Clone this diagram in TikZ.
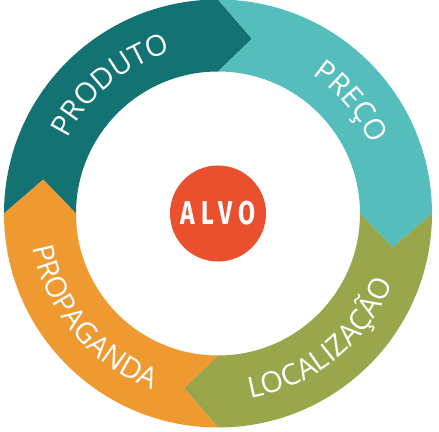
\documentclass[tikz,border=0pt]{standalone}
\usepackage{fontspec}
\usetikzlibrary{decorations.text}
\newfontfamily\ringfont{Open Sans}
\newfontfamily\alvofont[LetterSpace=20, FakeStretch=0.75]{Fira Sans}
\definecolor{produtoCor}{HTML}{137272}
\definecolor{precoCor}{HTML}{56BDBD}
\definecolor{localCor}{HTML}{9AA64C}
\definecolor{propagCor}{HTML}{EF9A31}
\definecolor{alvoCor}{HTML}{EA4F2E}

\begin{document}
\begin{tikzpicture}
 % --- estilos ---
 \tikzset{
    alvo/.style={
        circle,
        fill=alvoCor,
        text=white,
        minimum size=96pt,
        inner sep=0pt,
        font=\alvofont\bfseries\fontsize{33}{33}\selectfont
    },
    rotulo/.style={
        decorate,
        decoration={text along path, text align=center,
            text={|\ringfont\fontsize{29}{29}\selectfont\color{white}|#1}}
    }
 }
 \useasboundingbox (-218pt,-217.5pt) rectangle (221pt,213.5pt);

 % --- setas do anel (sentido horário) ---
 % Produto: de 180 a 90 graus
 \fill[produtoCor] (180:214pt) arc[start angle=180, end angle=90, radius=214pt]
    -- (79:178pt) -- (90:142pt) arc[start angle=90, end angle=180, radius=142pt]
    -- (169:178pt) -- cycle;
 % Preço: de 90 a 0 graus
 \fill[precoCor] (90:214pt) arc[start angle=90, end angle=0, radius=214pt]
    -- (-11:178pt) -- (0:142pt) arc[start angle=0, end angle=90, radius=142pt]
    -- (79:178pt) -- cycle;
 % Localização: de 0 a -90 graus
 \fill[localCor] (0:214pt) arc[start angle=0, end angle=-90, radius=214pt]
    -- (-101:178pt) -- (-90:142pt) arc[start angle=-90, end angle=0, radius=142pt]
    -- (-11:178pt) -- cycle;
 % Propaganda: de -90 a -180 graus
 \fill[propagCor] (-90:214pt) arc[start angle=-90, end angle=-180, radius=214pt]
    -- (169:178pt) -- (180:142pt) arc[start angle=180, end angle=270, radius=142pt]
    -- (-101:178pt) -- cycle;

 % --- textos curvos ---
 \path[rotulo=PRODUTO] (190:168pt) arc[start angle=190, end angle=70, radius=168pt];
 \path[rotulo=PREÇO] (100:168pt) arc[start angle=100, end angle=-20, radius=168pt];
 \path[rotulo=LOCALIZAÇÃO] (-111:188pt) arc[start angle=-111, end angle=9, radius=188pt];
 \path[rotulo=PROPAGANDA] (160:188pt) arc[start angle=160, end angle=280, radius=188pt];

 % --- centro ---
 \node[alvo] (Alvo) at (0,0) {ALVO};
\end{tikzpicture}
\end{document}
